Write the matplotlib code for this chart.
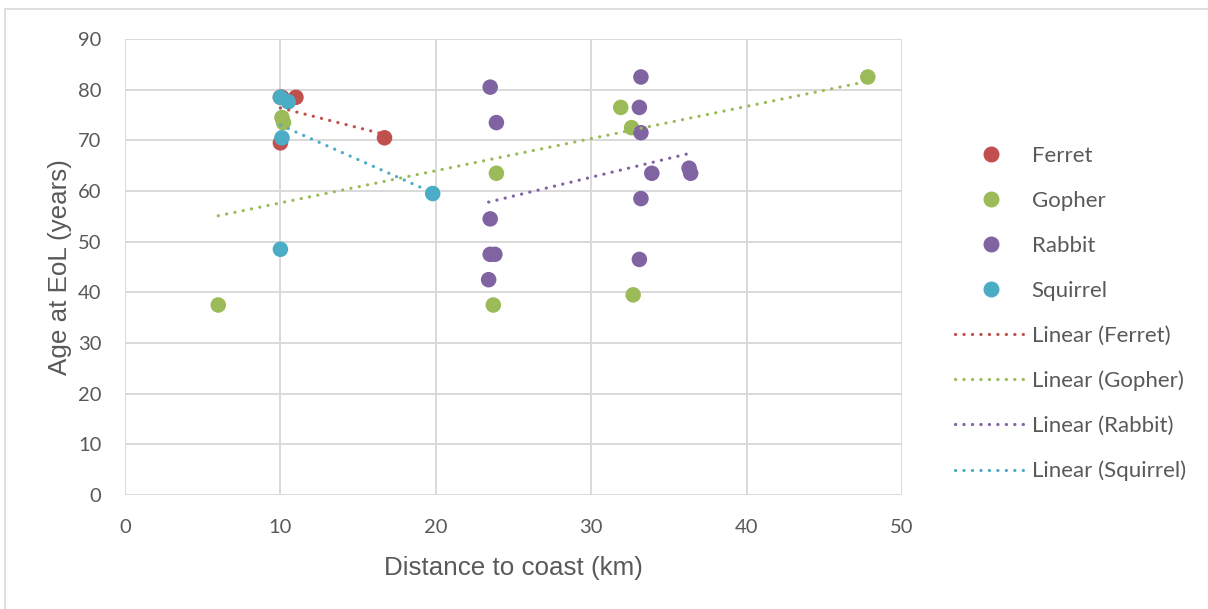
import matplotlib.pyplot as plt
from matplotlib.lines import Line2D
from matplotlib.patches import Rectangle
import numpy as np

# distance to coast (km) and age at end of life (years) per species
ferret_x = [10.0, 10.0, 10.1, 11.0, 16.7]
ferret_y = [69.5, 78.5, 78.5, 78.5, 70.5]
gopher_x = [6.0, 10.1, 10.2, 23.9, 23.7, 31.9, 32.6, 32.7, 47.8]
gopher_y = [37.5, 74.5, 73.5, 63.5, 37.5, 76.5, 72.5, 39.5, 82.5]
rabbit_x = [23.5, 23.9, 23.5, 23.5, 23.8, 23.4,
            33.2, 33.1, 33.2, 33.9, 36.3, 36.4, 33.2, 33.1]
rabbit_y = [80.5, 73.5, 54.5, 47.5, 47.5, 42.5,
            82.5, 76.5, 71.5, 63.5, 64.5, 63.5, 58.5, 46.5]
squirrel_x = [10.0, 10.5, 10.1, 10.0, 19.8]
squirrel_y = [78.5, 77.6, 70.5, 48.5, 59.5]

# linear trendlines (slope, intercept)
ferret_fit = (-0.78, 84.2)
gopher_fit = (0.635, 51.3)
rabbit_fit = (0.744, 40.4)
squirrel_fit = (-1.36, 86.6)

names = ['Ferret', 'Gopher', 'Rabbit', 'Squirrel']
colors = ['#C0504D', '#9BBB59', '#8064A2', '#4BACC6']
xs = [ferret_x, gopher_x, rabbit_x, squirrel_x]
ys = [ferret_y, gopher_y, rabbit_y, squirrel_y]
fits = [ferret_fit, gopher_fit, rabbit_fit, squirrel_fit]

text_col = '#595959'
grid_col = '#D9D9D9'
dot = (0, (0.05, 2.6))

fig = plt.figure(figsize=(12.08, 6.09), dpi=100)
ax = fig.add_axes([125/1208, 1 - 495/609, 777/1208, 456/609])

# light frame round the chart area
fig.patches.append(Rectangle((5/1208, -0.1), 1.2, 1 - 9/609 + 0.1,
                             transform=fig.transFigure, fill=False,
                             edgecolor=grid_col, lw=1.2))

for x, y, c in zip(xs, ys, colors):
    ax.scatter(x, y, s=125, color=c, edgecolors='none', zorder=3)

for x, (m, b), c in zip(xs, fits, colors):
    tx = np.array([min(x), max(x)])
    ax.plot(tx, m * tx + b, color=c, lw=2.3, linestyle=dot,
            dash_capstyle='round', zorder=4)

ax.set_xlim(0, 50)
ax.set_ylim(0, 90)
ax.set_xticks(range(0, 51, 10))
ax.set_yticks(range(0, 91, 10))
ax.grid(True, color=grid_col, lw=1.4)
ax.set_axisbelow(True)
for s in ax.spines.values():
    s.set_visible(False)
ax.tick_params(length=0, labelsize=14.5, labelcolor=text_col, pad=17)
for lab in ax.get_xticklabels() + ax.get_yticklabels():
    lab.set_family('Lato')

ax.set_xlabel('Distance to coast (km)', fontsize=18.7, color=text_col,
              family='Liberation Sans', labelpad=15)
ax.set_ylabel('Age at EoL (years)', fontsize=18.7, color=text_col,
              family='Liberation Sans', labelpad=4)

handles = []
labels = []
for n, c in zip(names, colors):
    handles.append(Line2D([], [], marker='o', ls='none', color=c, markersize=10.5))
    labels.append(n)
for n, c in zip(names, colors):
    handles.append(Line2D([], [], color=c, lw=2.3, linestyle=dot,
                          dash_capstyle='round'))
    labels.append('Linear (' + n + ')')

leg = fig.legend(handles, labels, loc='upper left',
                 bbox_to_anchor=(955/1208, 1 - 146/609), frameon=False,
                 prop={'family': 'Lato', 'size': 16}, labelcolor=text_col,
                 handlelength=3.25, handletextpad=0.2, labelspacing=1.12,
                 borderpad=0, borderaxespad=0)

fig.savefig('out.png', dpi=100)
